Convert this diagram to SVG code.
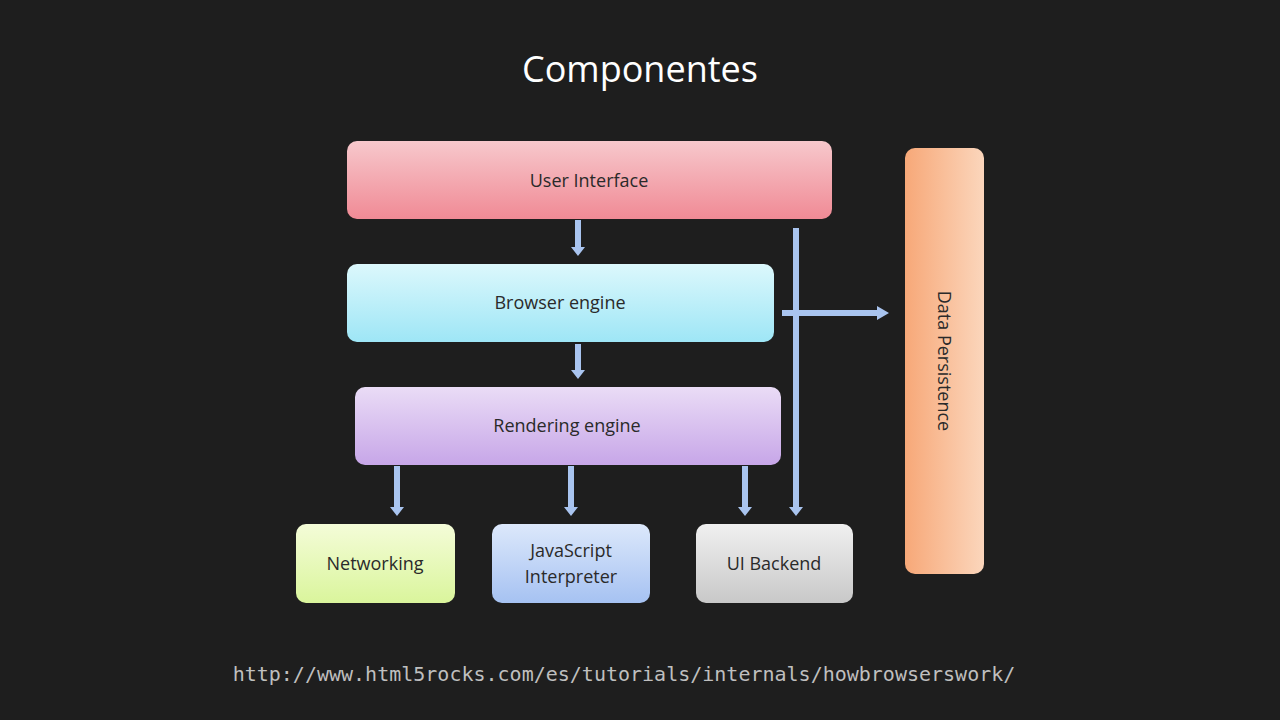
<svg xmlns="http://www.w3.org/2000/svg" width="1280" height="720" viewBox="0 0 1280 720">
<style>
.lbl{font-family:"Open Sans","Liberation Sans",sans-serif;font-size:18px;fill:#2a2a2a;text-anchor:middle}
.shaft{stroke:#a9c4ef;stroke-width:6;fill:none}
.head{fill:#a9c4ef}
</style>
<defs>
<linearGradient id="gUI" x1="0" y1="0" x2="0" y2="1"><stop offset="0" stop-color="#f7c8cc"/><stop offset="1" stop-color="#f08a95"/></linearGradient>
<linearGradient id="gBE" x1="0" y1="0" x2="0" y2="1"><stop offset="0" stop-color="#dcf8fc"/><stop offset="1" stop-color="#9ee6f6"/></linearGradient>
<linearGradient id="gRE" x1="0" y1="0" x2="0" y2="1"><stop offset="0" stop-color="#eadcf6"/><stop offset="1" stop-color="#c7a6e8"/></linearGradient>
<linearGradient id="gNW" x1="0" y1="0" x2="0" y2="1"><stop offset="0" stop-color="#f4fcd8"/><stop offset="1" stop-color="#daf59c"/></linearGradient>
<linearGradient id="gJS" x1="0" y1="0" x2="0" y2="1"><stop offset="0" stop-color="#dce8fb"/><stop offset="1" stop-color="#a6c2f2"/></linearGradient>
<linearGradient id="gUB" x1="0" y1="0" x2="0" y2="1"><stop offset="0" stop-color="#f0f0f0"/><stop offset="1" stop-color="#c8c8c8"/></linearGradient>
<linearGradient id="gDP" x1="0" y1="0" x2="1" y2="0"><stop offset="0" stop-color="#f7a878"/><stop offset="1" stop-color="#fbd6bc"/></linearGradient>
</defs>
<rect width="1280" height="720" fill="#1e1e1e"/>
<text x="640" y="82" font-family="Open Sans, Liberation Sans, sans-serif" font-size="36" fill="#ffffff" text-anchor="middle">Componentes</text>
<g id="connectors">
<path class="shaft" d="M578 220V248M578 344V371M397 466V508M571 466V508M745 466V508M796 228V508M782 313H878"/>
<path class="head" d="M571 247h14l-7 9zM571 370h14l-7 9zM390 507h14l-7 9zM564 507h14l-7 9zM738 507h14l-7 9zM789 507h14l-7 9zM877 306v14l12-7z"/>
</g>
<g id="ui"><rect x="347" y="141" width="485" height="78" rx="10" fill="url(#gUI)"/><text class="lbl" x="589" y="187">User  Interface</text></g>
<g id="browser"><rect x="347" y="264" width="427" height="78" rx="10" fill="url(#gBE)"/><text class="lbl" x="560" y="309">Browser engine</text></g>
<g id="rendering"><rect x="355" y="387" width="426" height="78" rx="10" fill="url(#gRE)"/><text class="lbl" x="567" y="432">Rendering engine</text></g>
<g id="networking"><rect x="296" y="524" width="159" height="79" rx="10" fill="url(#gNW)"/><text class="lbl" x="375" y="570">Networking</text></g>
<g id="js"><rect x="492" y="524" width="158" height="79" rx="10" fill="url(#gJS)"/><text class="lbl" x="571" y="557">JavaScript</text><text class="lbl" x="571" y="583">Interpreter</text></g>
<g id="uibackend"><rect x="696" y="524" width="157" height="79" rx="10" fill="url(#gUB)"/><text class="lbl" x="774" y="570">UI Backend</text></g>
<g id="datapersistence"><rect x="905" y="148" width="79" height="426" rx="10" fill="url(#gDP)"/><text class="lbl" transform="translate(938 361) rotate(90)">Data Persistence</text></g>
<text x="624" y="681" font-family="DejaVu Sans Mono, Liberation Mono, monospace" font-size="20" fill="#bfbfbf" text-anchor="middle">http://www.html5rocks.com/es/tutorials/internals/howbrowserswork/</text>
</svg>
